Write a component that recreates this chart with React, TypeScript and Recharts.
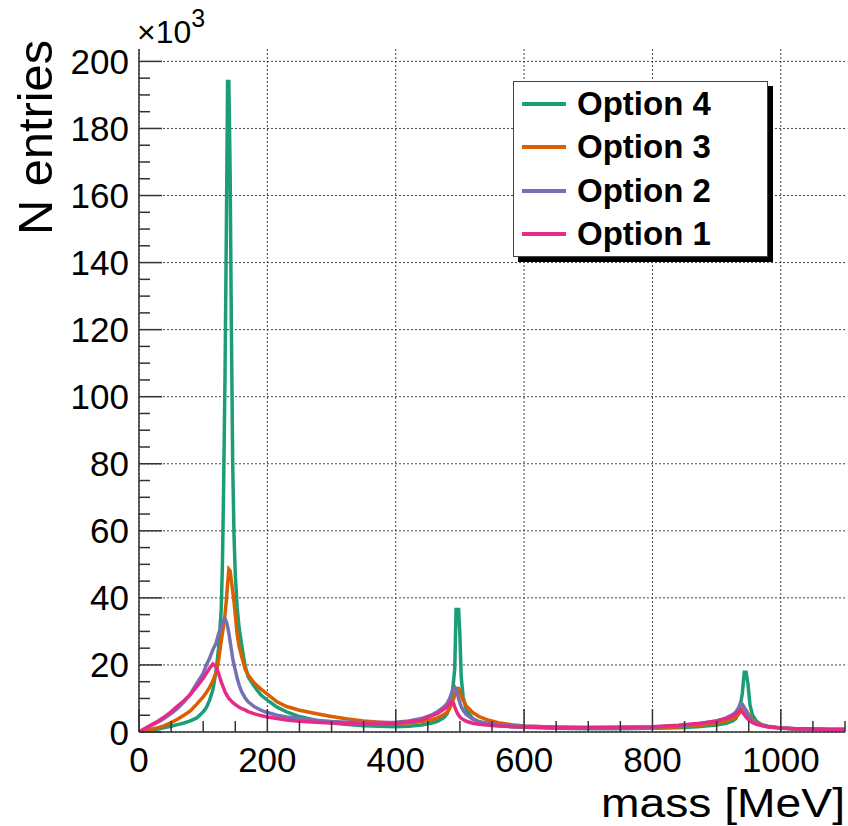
import { CartesianGrid, Label, Legend, Line, LineChart, XAxis, YAxis } from 'recharts';

// invariant mass grid [MeV], finer around the three peaks
const mass = [
  0, 10, 20, 30, 40, 50, 60, 70, 80, 90, 100,
  105, 110, 115, 120, 124, 128,
  130, 132, 134, 136, 138, 140, 142, 144, 146, 148, 150,
  153, 156, 160, 165, 170,
  180, 190, 200, 215, 230, 250, 275, 300, 325, 350, 375, 400,
  420, 440, 455, 465, 475, 480, 484, 487,
  490, 492, 494, 496, 498, 500, 502, 505, 510,
  520, 530, 545, 560, 580, 600,
  650, 700, 750, 800, 840, 870, 900,
  915, 925, 930, 934, 937, 940, 943, 946, 949, 952, 956, 962, 970, 980,
  1000, 1025, 1050, 1075, 1100
];

// entries in units of 10^3
const option4 = [
  0, 0.3, 0.6, 0.9, 1.3, 1.7, 2.2, 2.7, 3.3, 4.2, 6.0,
  7.3, 9.5, 12.5, 18, 25, 36,
  50, 75, 106, 147, 194, 194, 167, 119, 80, 59, 47,
  37, 31, 26, 20, 16.5,
  13.5, 11, 9.5, 7.4, 6, 4.6, 3.5, 2.7, 2.2, 1.9, 1.7, 1.6,
  1.7, 2.1, 2.6, 3.2, 4.3, 5.4, 7.5, 10,
  15, 19, 36.5, 36.5, 36.5, 28.8, 16.4, 10.5, 6.5,
  4, 3, 2.3, 1.9, 1.6, 1.4,
  1.1, 1, 1, 1.1, 1.3, 1.6, 2.1,
  2.6, 3.3, 4, 5.5, 8, 11.5, 17.8, 17.8, 14, 8, 5, 3.2, 2.2, 1.6,
  1.1, 0.9, 0.8, 0.7, 0.7
];

const option3 = [
  0, 0.3, 0.8, 1.3, 1.9, 2.8, 3.8, 5, 6.3, 8.3, 10.5,
  11.8, 13.3, 15.2, 17.8, 21.5, 27,
  29.5, 32, 35, 39, 44, 48.5, 48, 45, 42, 39, 35,
  29, 25.5, 22.5, 19, 17,
  14.5, 12.8, 11.3, 9, 7.6, 6.5, 5.5, 4.6, 3.9, 3.3, 2.9, 2.6,
  2.7, 3.1, 3.6, 4.2, 5.2, 5.9, 7, 8.3,
  9.8, 11, 12, 13, 13, 12.2, 11, 9.5, 7.8,
  5.8, 4.6, 3.5, 2.8, 2.2, 1.8,
  1.4, 1.2, 1.1, 1.2, 1.5, 1.9, 2.6,
  3.3, 4, 4.5, 5.3, 6, 6.8, 7.1, 6.5, 5.5, 4.6, 3.7, 2.8, 2.2, 1.7,
  1.2, 0.9, 0.8, 0.7, 0.7
];

const option2 = [
  0, 1, 2, 3, 4.2, 5.5, 7, 9, 11.3, 14.5, 17.5,
  20, 22, 24.5, 26.5, 29.3, 31.5,
  32.5, 33.5, 33.8, 33, 31.5, 29.5, 27, 24.5, 22, 20, 18.5,
  16, 14, 12, 10.3, 9,
  7.5, 6.5, 5.8, 5, 4.5, 4, 3.5, 3.1, 2.9, 2.8, 2.8, 2.9,
  3.3, 4, 5, 6, 7.5, 8.5, 10, 11.5,
  13, 13.4, 12.8, 11.5, 10, 8.7, 7.6, 6.5, 5.2,
  3.8, 3.1, 2.6, 2.2, 1.9, 1.7,
  1.5, 1.4, 1.4, 1.5, 1.9, 2.4, 3.3,
  4.2, 5.2, 6, 7.2, 8.5, 8.3, 7.4, 6, 4.8, 4, 3.2, 2.5, 2, 1.6,
  1.2, 1, 0.9, 0.8, 0.8
];

const option1 = [
  0, 1.1, 2.2, 3.3, 4.6, 6, 7.7, 9.3, 11.2, 13.5, 16,
  17.5, 19, 20.3, 19.5, 17.5, 15,
  14, 13, 12, 11.3, 10.6, 10, 9.6, 9.2, 8.8, 8.5, 8.2,
  7.8, 7.4, 7, 6.6, 6.1,
  5.4, 4.9, 4.5, 4, 3.6, 3.2, 2.9, 2.7, 2.6, 2.5, 2.5, 2.6,
  3, 3.6, 4.7, 5.5, 6.8, 7.6, 8.5, 9,
  8.6, 7.5, 6.5, 5.7, 5, 4.5, 4.1, 3.7, 3.2,
  2.6, 2.3, 2, 1.8, 1.6, 1.5,
  1.3, 1.3, 1.4, 1.6, 2, 2.5, 3.3,
  4, 4.8, 5.4, 6.2, 6.5, 6, 5.2, 4.4, 3.8, 3.3, 2.8, 2.3, 1.9, 1.5,
  1.2, 1, 0.9, 0.8, 0.8
];

const xTicks = [0, 50, 100, 150, 200, 250, 300, 350, 400, 450, 500, 550, 600, 650, 700, 750, 800, 850, 900, 950, 1000, 1050, 1100];
const xMajor = [0, 200, 400, 600, 800, 1000];
const yTicks = [
  0, 5, 10, 15, 20, 25, 30, 35, 40, 45, 50, 55, 60, 65, 70, 75, 80, 85, 90, 95, 100,
  105, 110, 115, 120, 125, 130, 135, 140, 145, 150, 155, 160, 165, 170, 175, 180, 185, 190, 195, 200
];
const yMajor = [0, 20, 40, 60, 80, 100, 120, 140, 160, 180, 200];

const series = [
  { key: 'opt4', name: 'Option 4', color: '#1b9e77', values: option4 },
  { key: 'opt3', name: 'Option 3', color: '#d95f02', values: option3 },
  { key: 'opt2', name: 'Option 2', color: '#7570b3', values: option2 },
  { key: 'opt1', name: 'Option 1', color: '#e7298a', values: option1 }
];

const rows = mass.map((m, i) => {
  const row: Record<string, number> = { mass: m };
  series.forEach((s) => {
    row[s.key] = s.values[i];
  });
  return row;
});

const FONT = "'Liberation Sans', Arial, Helvetica, sans-serif";
const FRAME = '#333';
const X_MAX = 1100;
const Y_MAX = 203.7;

const XTick = (props: any) => {
  const { x, y, payload } = props;
  const major = xMajor.includes(payload.value);
  return (
    <g>
      <line x1={x} x2={x} y1={y} y2={y - (major ? 23 : 11)} stroke={FRAME} strokeWidth={1.5} />
      {major && (
        <text x={x} y={y + 40} textAnchor="middle" fontSize={35} fontFamily={FONT} fill="#000">
          {payload.value}
        </text>
      )}
    </g>
  );
};

const YTick = (props: any) => {
  const { x, y, payload } = props;
  const major = yMajor.includes(payload.value);
  return (
    <g>
      <line x1={x} x2={x + (major ? 23 : 11)} y1={y} y2={y} stroke={FRAME} strokeWidth={1.5} />
      {major && (
        <text x={x - 10} y={y + 12.5} textAnchor="end" fontSize={35} fontFamily={FONT} fill="#000">
          {payload.value}
        </text>
      )}
    </g>
  );
};

const RightTick = (props: any) => {
  const { x, y, payload } = props;
  const major = yMajor.includes(payload.value);
  return <line x1={x} x2={x - (major ? 23 : 11)} y1={y} y2={y} stroke={FRAME} strokeWidth={1.5} />;
};

const LegendBox = () => (
  <div
    style={{
      boxSizing: 'border-box',
      width: 255,
      height: 176,
      background: '#fff',
      border: '1.5px solid #444',
      boxShadow: '5px 5px 0 #000',
      display: 'flex',
      flexDirection: 'column',
      justifyContent: 'center'
    }}
  >
    {series.map((s) => (
      <div key={s.key} style={{ height: 44, display: 'flex', alignItems: 'center', paddingLeft: 8 }}>
        <span style={{ display: 'inline-block', width: 44, height: 4, background: s.color, marginRight: 11 }} />
        <span style={{ fontFamily: FONT, fontWeight: 'bold', fontSize: 33, color: '#000' }}>{s.name}</span>
      </div>
    ))}
  </div>
);

export default function App() {
  return (
    <div style={{ position: 'absolute', left: 0, top: 0, background: '#fff' }}>
      <LineChart width={848} height={826} data={rows} margin={{ top: 49, right: 3, bottom: 0, left: 0 }}>
        <CartesianGrid
          stroke="#444"
          strokeDasharray="2 2"
          verticalCoordinatesGenerator={({ offset }: any) =>
            xMajor.map((v) => offset.left + (v / X_MAX) * offset.width)
          }
          horizontalCoordinatesGenerator={({ offset }: any) =>
            yMajor.map((v) => offset.top + (1 - v / Y_MAX) * offset.height)
          }
        />
        <XAxis
          dataKey="mass"
          type="number"
          domain={[0, X_MAX]}
          ticks={xTicks}
          interval={0}
          tickSize={0}
          tickMargin={0}
          tickLine={false}
          tick={<XTick />}
          axisLine={{ stroke: FRAME, strokeWidth: 1.5 }}
          height={94}
          allowDataOverflow
        >
          <Label
            content={() => (
              <text
                x={845}
                y={817}
                textAnchor="end"
                fontSize={41}
                textLength={244}
                lengthAdjust="spacingAndGlyphs"
                fontFamily={FONT}
                fill="#000"
              >
                mass [MeV]
              </text>
            )}
          />
        </XAxis>
        <XAxis
          xAxisId="top"
          orientation="top"
          dataKey="mass"
          type="number"
          domain={[0, X_MAX]}
          height={0}
          tick={false}
          tickLine={false}
          axisLine={{ stroke: FRAME, strokeWidth: 1.5 }}
        />
        <YAxis
          type="number"
          domain={[0, Y_MAX]}
          ticks={yTicks}
          interval={0}
          tickSize={0}
          tickMargin={0}
          tickLine={false}
          tick={<YTick />}
          axisLine={{ stroke: FRAME, strokeWidth: 1.5 }}
          width={139}
          allowDataOverflow
        >
          <Label
            content={() => (
              <g>
                <text
                  x={52}
                  y={40}
                  transform="rotate(-90 52 40)"
                  textAnchor="end"
                  fontSize={48}
                  textLength={195}
                  lengthAdjust="spacingAndGlyphs"
                  fontFamily={FONT}
                  fill="#000"
                >
                  N entries
                </text>
                <text x={137} y={43} fontSize={32} fontFamily={FONT} fill="#000">
                  ×10
                  <tspan fontSize={25} dy={-16}>
                    3
                  </tspan>
                </text>
              </g>
            )}
          />
        </YAxis>
        <YAxis
          yAxisId="right"
          orientation="right"
          type="number"
          domain={[0, Y_MAX]}
          ticks={yTicks}
          interval={0}
          tickSize={0}
          tickMargin={0}
          tickLine={false}
          tick={<RightTick />}
          axisLine={{ stroke: FRAME, strokeWidth: 1.5 }}
          width={0}
        />
        <Legend
          layout="vertical"
          align="center"
          verticalAlign="middle"
          wrapperStyle={{ left: 513, top: 81, width: 255, height: 176 }}
          content={() => <LegendBox />}
        />
        {series.map((s) => (
          <Line
            key={s.key}
            dataKey={s.key}
            name={s.name}
            type="linear"
            stroke={s.color}
            strokeWidth={3.5}
            dot={false}
            activeDot={false}
            isAnimationActive={false}
          />
        ))}
      </LineChart>
    </div>
  );
}
